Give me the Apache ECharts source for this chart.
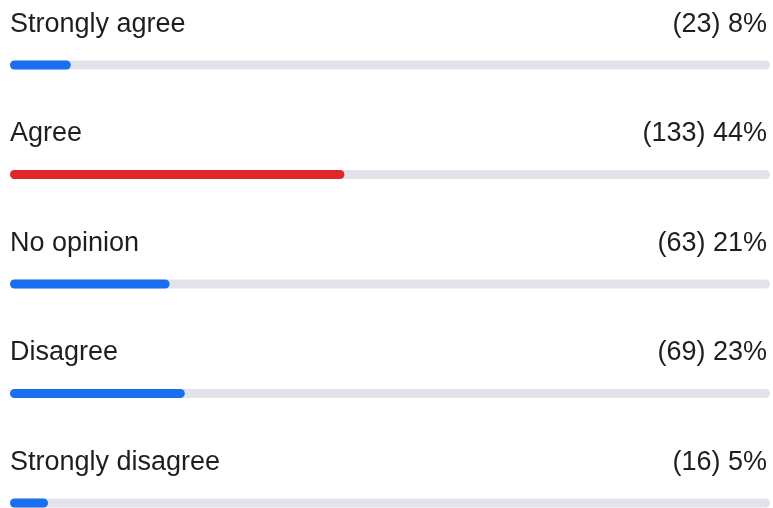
<!DOCTYPE html>
<html><head><meta charset="utf-8">
<script src="https://cdn.jsdelivr.net/npm/echarts@6/dist/echarts.min.js"></script>
<style>html,body{margin:0;padding:0;background:#fff}#c{width:773px;height:508px}</style>
</head><body><div id="c"></div>
<script>
const categories = ['Strongly agree', 'Agree', 'No opinion', 'Disagree', 'Strongly disagree'];
const counts = [23, 133, 63, 69, 16];
const percents = [8, 44, 21, 23, 5];
const highlightIndex = 1;

const chart = echarts.init(document.getElementById('c'), null, {renderer: 'canvas'});
const FONT = '"Liberation Sans", Arial, Helvetica, sans-serif';
const textStyle = {fontFamily: FONT, fontSize: 27, color: '#1c1e21'};

chart.setOption({
  animation: false,
  grid: {left: 10, right: 3, top: 65, bottom: 5},
  xAxis: {type: 'value', min: 0, max: 100, show: false},
  yAxis: {type: 'category', data: categories, inverse: true, show: false, boundaryGap: false},
  series: [
    {
      type: 'bar', barWidth: 9, barGap: '-100%', silent: true, clip: false,
      data: categories.map(() => 100),
      itemStyle: {color: '#e2e3ea', borderRadius: 4.5},
      label: {
        show: true, position: ['100%', -36], align: 'right', verticalAlign: 'middle',
        offset: [-3, 0], ...textStyle,
        formatter: p => '(' + counts[p.dataIndex] + ') ' + percents[p.dataIndex] + '%'
      }
    },
    {
      type: 'bar', barWidth: 9, barGap: '-100%', silent: true, clip: false,
      data: percents.map((v, i) => ({
        value: v,
        itemStyle: {color: i === highlightIndex ? '#e0262a' : '#1a6ff0'}
      })),
      itemStyle: {borderRadius: 4.5},
      label: {
        show: true, position: [0, -36], align: 'left', verticalAlign: 'middle',
        ...textStyle,
        formatter: p => categories[p.dataIndex]
      }
    }
  ]
});
</script></body></html>
